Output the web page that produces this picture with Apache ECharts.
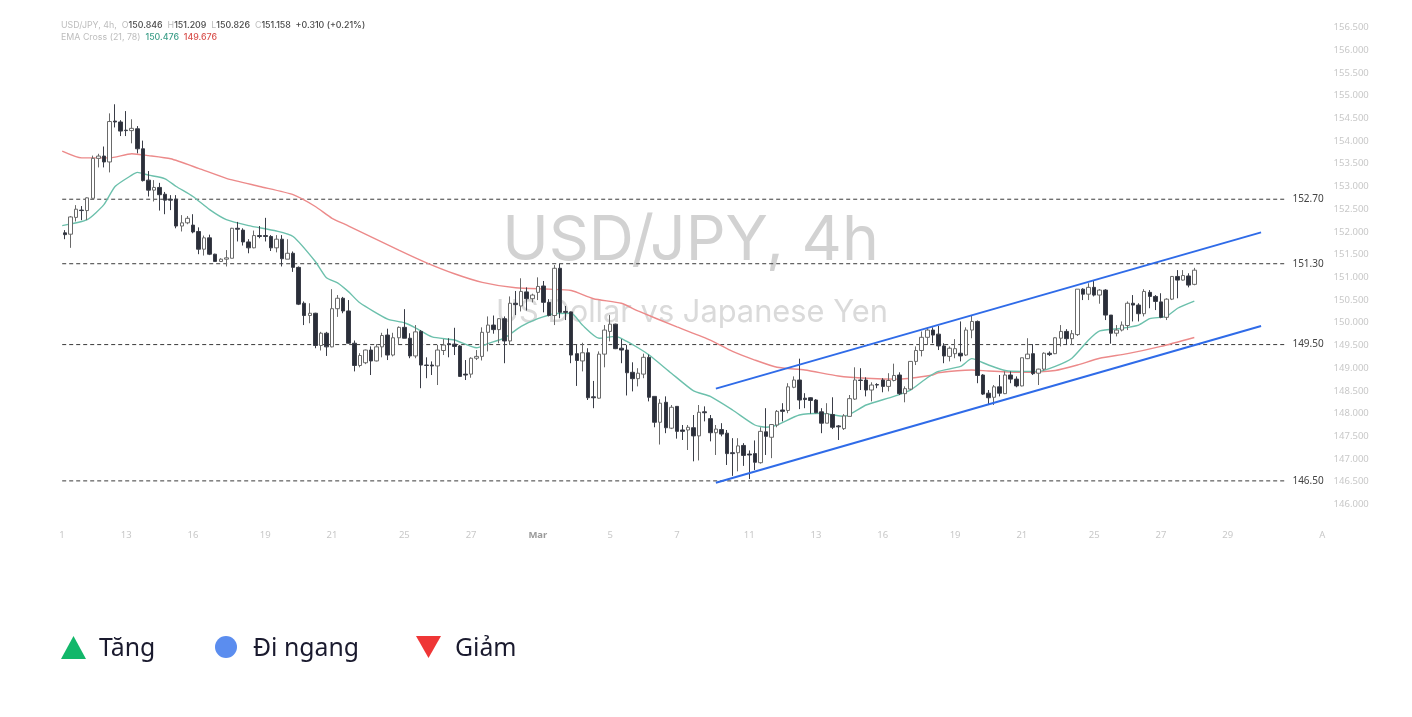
<!DOCTYPE html>
<html>
<head>
<meta charset="utf-8">
<title>USD/JPY 4h</title>
<script src="https://cdn.jsdelivr.net/npm/echarts@6/dist/echarts.min.js"></script>
<style>
html,body{margin:0;padding:0;background:#fff}
#chart{width:1412px;height:717px}
</style>
</head>
<body>
<div id="chart"></div>
<script>
// x axis labels, keyed by candle slot
var tickLabels = {0:'1',11:'13',23:'16',36:'19',48:'21',61:'25',73:'27',85:'Mar',98:'5',110:'7',123:'11',135:'13',147:'16',160:'19',172:'21',185:'25',197:'27',209:'29',226:'A'};
var slotCount = 228;

// open, close, low, high
var ohlc = [
[151.98,151.94,151.84,152.04],[151.95,152.33,151.65,152.35],[152.32,152.50,152.23,152.59],[152.48,152.47,152.26,152.57],
[152.47,152.75,152.26,152.76],[152.74,153.62,152.74,153.68],[153.62,153.67,153.42,153.72],[153.67,153.54,153.42,153.88],
[153.54,154.43,153.31,154.61],[154.44,154.42,154.30,154.81],[154.42,154.22,154.11,154.46],[154.24,154.23,154.11,154.66],
[154.23,154.28,153.95,154.48],[154.27,153.83,153.73,154.33],[153.83,153.13,153.11,154.01],[153.14,152.92,152.78,153.34],
[152.92,152.98,152.67,153.14],[152.98,152.82,152.47,153.08],[152.83,152.70,152.39,152.88],[152.72,152.70,152.48,152.81],
[152.72,152.13,152.08,152.81],[152.13,152.20,152.01,152.37],[152.20,152.30,152.17,152.35],[152.15,152.00,151.97,152.39],
[152.01,151.62,151.51,152.10],[151.62,151.87,151.48,151.92],[151.87,151.51,151.49,151.94],[151.51,151.35,151.34,151.52],
[151.35,151.40,151.34,151.42],[151.40,151.43,151.24,151.60],[151.42,152.08,151.42,152.09],[152.08,152.06,151.79,152.22],
[152.04,151.78,151.70,152.08],[151.78,151.65,151.53,151.84],[151.65,151.92,151.64,152.03],[151.92,151.90,151.86,152.13],
[151.92,151.90,151.79,152.31],[151.90,151.65,151.58,151.93],[151.65,151.84,151.55,151.93],[151.84,151.41,151.24,151.93],
[151.40,151.53,151.40,151.84],[151.53,151.22,151.12,151.57],[151.22,150.41,150.39,151.24],[150.43,150.16,149.95,150.47],
[150.16,150.21,149.99,150.43],[150.21,149.50,149.44,150.22],[149.50,149.77,149.39,149.80],[149.77,149.47,149.27,149.80],
[149.47,150.31,149.46,150.74],[150.31,150.54,150.13,150.61],[150.54,150.26,150.21,150.57],[150.26,149.55,149.54,150.50],
[149.55,149.06,148.93,149.61],[149.06,149.28,149.02,149.33],[149.12,149.40,149.09,149.41],[149.40,149.16,148.85,149.48],
[149.16,149.47,149.15,149.53],[149.47,149.72,149.24,149.78],[149.73,149.29,149.18,149.87],[149.29,149.67,149.26,149.78],
[149.67,149.90,149.51,149.92],[149.90,149.66,149.66,150.30],[149.66,149.27,149.22,149.77],[149.27,149.80,149.22,149.95],
[149.81,149.07,148.56,149.84],[149.07,149.06,148.78,149.24],[149.07,149.05,148.85,149.15],[149.05,149.40,148.63,149.51],
[149.39,149.51,149.29,149.64],[149.54,149.52,149.24,149.66],[149.53,149.48,149.29,149.89],[149.49,148.82,148.81,149.51],
[148.87,148.85,148.74,149.18],[148.87,149.22,148.79,149.24],[149.22,149.26,149.18,149.40],[149.26,149.79,149.17,149.90],
[149.79,149.95,149.37,150.14],[149.95,149.85,149.76,150.16],[149.85,150.09,149.55,150.10],[150.09,149.60,149.11,150.14],
[149.60,150.43,149.51,150.58],[150.43,150.40,150.17,150.70],[150.37,150.69,150.25,150.98],[150.68,150.53,150.27,150.78],
[150.53,150.61,150.45,150.64],[150.67,150.80,150.50,151.00],[150.81,150.45,150.23,150.92],[150.45,150.16,150.14,150.52],
[150.16,151.20,149.95,151.27],[151.20,150.23,150.10,151.30],[150.25,150.23,150.06,150.37],[150.24,149.29,149.11,150.25],
[149.32,149.17,148.61,149.51],[149.16,149.34,148.93,149.56],[149.34,148.35,148.30,149.44],[148.37,148.35,148.12,148.72],
[148.34,149.31,148.33,149.37],[149.31,149.84,149.02,149.95],[149.81,149.97,149.59,150.17],[149.97,149.43,149.42,149.98],
[149.44,149.40,149.11,149.64],[149.40,148.90,148.40,149.51],[148.91,148.77,148.49,149.13],[148.77,148.89,148.60,149.00],
[148.87,149.24,148.78,149.32],[149.24,148.36,148.27,149.30],[148.38,147.81,147.70,148.38],[147.81,148.23,147.32,148.32],
[148.25,147.69,147.57,148.38],[147.68,148.14,147.66,148.19],[148.16,147.61,147.45,148.16],[147.64,147.61,147.42,147.75],
[147.64,147.70,147.20,147.75],[147.69,147.51,146.95,147.97],[147.51,148.03,146.97,148.19],[148.04,148.02,147.83,148.16],
[147.89,147.58,147.39,147.97],[147.58,147.66,147.09,147.75],[147.65,147.55,147.50,147.79],[147.57,147.12,146.87,147.64],
[147.14,147.12,146.63,147.46],[147.14,147.29,146.73,147.46],[147.30,147.08,146.85,147.35],[147.11,147.09,146.56,147.19],
[147.12,146.93,146.76,147.41],[146.92,147.61,146.90,147.70],[147.60,147.50,147.09,148.12],[147.48,147.76,147.02,147.77],
[147.75,148.05,147.70,148.08],[148.08,148.05,147.83,148.23],[148.07,148.59,148.01,148.67],[148.58,148.74,148.56,148.82],
[148.74,148.30,148.10,149.21],[148.34,148.31,148.12,148.45],[148.35,148.29,148.00,148.36],[148.30,148.02,148.01,148.32],
[148.04,147.79,147.57,148.12],[147.79,148.00,147.79,148.23],[147.98,147.70,147.66,148.36],[147.73,147.71,147.42,147.75],
[147.67,147.95,147.64,147.99],[147.94,148.33,147.94,148.41],[148.32,148.74,148.30,149.02],[148.74,148.73,148.52,149.00],
[148.74,148.52,148.38,148.80],[148.52,148.63,148.27,148.69],[148.64,148.63,148.56,148.67],[148.74,148.60,148.47,148.78],
[148.60,148.73,148.49,148.89],[148.73,148.84,148.71,149.10],[148.85,148.44,148.41,148.91],[148.44,148.55,148.25,148.60],
[148.54,149.15,148.52,149.15],[149.15,149.39,149.07,149.48],[149.39,149.68,149.26,149.81],[149.68,149.84,149.51,149.90],
[149.84,149.73,149.55,149.90],[149.75,149.49,149.40,149.93],[149.49,149.27,149.11,149.55],[149.26,149.44,149.15,149.48],
[149.32,149.43,149.22,149.64],[149.33,149.27,149.15,150.03],[149.29,149.84,149.27,149.90],[149.84,150.03,149.66,150.15],
[150.03,148.84,148.67,150.05],[148.85,148.43,148.41,148.87],[148.45,148.35,148.19,148.52],[148.36,148.59,148.19,148.63],
[148.59,148.45,148.38,148.85],[148.44,148.85,148.43,148.93],[148.85,148.76,148.67,148.93],[148.76,148.61,148.58,148.82],
[148.61,149.23,148.60,149.23],[149.21,149.31,149.20,149.66],[149.32,148.88,148.85,149.53],[148.89,148.98,148.63,148.99],
[148.98,149.33,148.95,149.35],[149.33,149.30,149.27,149.37],[149.32,149.67,149.31,149.68],[149.66,149.81,149.48,149.95],
[149.81,149.65,149.51,149.86],[149.65,149.76,149.51,149.84],[149.74,150.74,149.71,150.74],[150.74,150.63,150.50,150.76],
[150.63,150.78,150.50,150.87],[150.78,150.61,150.58,150.94],[150.61,150.72,150.42,150.74],[150.72,150.17,150.06,150.74],
[150.17,149.77,149.54,150.17],[149.77,149.84,149.70,149.95],[149.84,149.95,149.81,150.03],[149.94,150.43,149.84,150.47],
[150.43,150.39,150.03,150.61],[150.39,150.20,150.03,150.43],[150.20,150.69,150.14,150.74],[150.67,150.58,150.32,150.72],
[150.58,150.47,150.28,150.61],[150.46,150.12,150.10,150.65],[150.12,150.52,150.06,150.54],[150.52,151.02,150.50,151.03],
[151.02,150.94,150.54,151.16],[150.94,151.04,150.93,151.16],[151.03,150.83,150.78,151.09],[150.846,151.158,150.826,151.209]
];

// [position in candle widths from the left edge, price]
var emaFast = [[0,152.14],[4.5,152.27],[7.5,152.60],[9.5,153.00],[12.5,153.25],[13.5,153.31],[15.5,153.25],[18.5,153.17],[20.5,153.00],[23.5,152.78],[26.5,152.49],[29.5,152.27],[33.5,152.14],[38.5,152.02],[41.5,151.90],[45.5,151.35],[47.5,150.99],[49.5,150.88],[51.5,150.68],[53.5,150.44],[58.5,150.08],[61.5,150.00],[63.5,149.89],[66.5,149.69],[70.5,149.62],[74.5,149.45],[76.5,149.54],[79.5,149.67],[82.5,149.92],[85.5,150.09],[88.5,150.20],[91.5,150.21],[93.5,149.95],[96.5,149.66],[99.5,149.70],[101.5,149.59],[103.5,149.45],[105.5,149.29],[109.5,148.89],[113.5,148.50],[116.5,148.38],[120.5,148.08],[124.5,147.75],[126.5,147.70],[128.5,147.75],[132.5,147.97],[136.5,148.01],[140.5,147.94],[144.5,148.19],[149.5,148.38],[152.5,148.52],[155.5,148.79],[157.5,148.93],[161.5,149.04],[163.5,149.21],[166.5,149.07],[169.5,148.95],[172.5,148.93],[175.5,148.93],[178.5,149.04],[181.5,149.22],[184.5,149.62],[186.5,149.82],[190.5,149.88],[193.5,149.95],[195.5,150.09],[198.5,150.14],[200.5,150.32],[203.5,150.476]];
var emaSlow = [[0,153.78],[3.5,153.63],[8.5,153.63],[12.5,153.72],[15.5,153.68],[19.5,153.61],[24.5,153.40],[29.5,153.18],[35.5,153.00],[41.5,152.82],[45.5,152.56],[48.5,152.30],[51.5,152.13],[60.5,151.60],[65.5,151.32],[70.5,151.08],[75.5,150.89],[81.5,150.77],[87.5,150.74],[91.5,150.71],[95.5,150.53],[100.5,150.43],[103.5,150.26],[110.5,149.91],[116.5,149.62],[120.5,149.37],[124.5,149.18],[128.5,149.02],[133.5,148.96],[139.5,148.83],[144.5,148.78],[150.5,148.76],[156.5,148.85],[157.5,148.90],[163.5,148.96],[166.5,148.94],[172.5,148.91],[178.5,148.95],[182.5,149.07],[186.5,149.22],[191.5,149.32],[197.5,149.48],[203.5,149.676]];

// trend channel ends and horizontal levels
var channelTop = [[117.5,148.55],[215.5,151.99]];
var channelBottom = [[117.5,146.48],[215.5,149.93]];
var levels = [152.72,151.30,149.52,146.52];
var levelText = ['152.70','151.30','149.50','146.50'];
var levelEnd = 219.7;

var categories = [];
for (var i = 0; i < slotCount; i++) categories.push(tickLabels[i] || '');

var series = [];
levels.forEach(function (p, n) {
    series.push({
        type: 'line',
        xAxisIndex: 1,
        data: [[0, p], [levelEnd, p]],
        symbol: 'none',
        silent: true,
        z: 1,
        lineStyle: {color: '#3a3a3a', width: 1, type: [4, 3]},
        endLabel: {
            show: true,
            distance: 8,
            formatter: levelText[n],
            color: '#444',
            fontFamily: 'Noto Sans',
            fontSize: 10
        }
    });
});
series.push({
    name: 'EMA 78', type: 'line', xAxisIndex: 1, data: emaSlow, symbol: 'none', smooth: 0.2, z: 2,
    lineStyle: {color: '#ec8a8a', width: 1.4}
});
series.push({
    name: 'EMA 21', type: 'line', xAxisIndex: 1, data: emaFast, symbol: 'none', smooth: 0.2, z: 2,
    lineStyle: {color: '#6cc0ac', width: 1.4}
});
series.push({
    name: 'USD/JPY', type: 'candlestick', data: ohlc, barWidth: 4, z: 3,
    itemStyle: {
        color: '#fff',
        color0: '#2a2e39',
        borderColor: '#6a6a6a',
        borderColor0: '#3a3d47',
        borderWidth: 1
    }
});
[channelTop, channelBottom].forEach(function (d) {
    series.push({
        type: 'line', xAxisIndex: 1, data: d, symbol: 'none', silent: true, z: 4,
        lineStyle: {color: '#2f6be8', width: 2}
    });
});

var chart = echarts.init(document.getElementById('chart'));
chart.setOption({
    animation: false,
    backgroundColor: '#fff',
    grid: {left: 62.2, top: 27.5, width: 1268.4, height: 477},
    xAxis: [{
        type: 'category',
        data: categories,
        axisLine: {show: false},
        axisTick: {show: false},
        splitLine: {show: false},
        axisLabel: {
            interval: function (idx, val) { return val !== ''; },
            hideOverlap: false,
            margin: 26,
            color: '#c8c8c8',
            fontFamily: 'Noto Sans',
            fontSize: 9.5,
            formatter: function (v) {
                if (v === 'Mar') return '{b|Mar}';
                if (v === '1') return '{s|1}';
                return v;
            },
            rich: {
                b: {color: '#9a9a9a', fontWeight: 'bold', fontFamily: 'Noto Sans', fontSize: 9.5},
                s: {color: '#c8c8c8', fontFamily: 'Noto Sans', fontSize: 9.5, padding: [0, 6, 0, 0]}
            }
        }
    }, {
        // continuous twin of the candle slots, for the overlay lines
        type: 'value',
        min: 0,
        max: slotCount,
        show: false
    }],
    yAxis: {
        type: 'value',
        position: 'right',
        min: 146,
        max: 156.5,
        interval: 0.5,
        axisLine: {show: false},
        axisTick: {show: false},
        splitLine: {show: false},
        axisLabel: {
            margin: 3,
            color: '#c8c8c8',
            fontFamily: 'Noto Sans',
            fontSize: 9.5,
            padding: [2, 0, 0, 0],
            formatter: function (v) { return v.toFixed(3); }
        }
    },
    graphic: [
        {type: 'text', z: 0, x: 690.5, y: 241, style: {text: 'USD/JPY, 4h', fill: '#d2d2d2', fontFamily: 'Inter', fontSize: 62.5, align: 'center', verticalAlign: 'middle'}},
        {type: 'text', z: 0, x: 692, y: 313, style: {text: 'US Dollar vs Japanese Yen', fill: '#dadada', fontFamily: 'Inter', fontSize: 30.8, align: 'center', verticalAlign: 'middle'}},
        {type: 'text', x: 61, y: 25, style: {
            text: '{g|USD/JPY, 4h,  O}{v|150.846}{g|  H}{v|151.209}{g|  L}{v|150.826}{g|  C}{v|151.158}{v|  +0.310 (+0.21%)}',
            verticalAlign: 'middle',
            rich: {
                g: {fill: '#bdbdbd', fontFamily: 'Inter', fontSize: 8.85},
                v: {fill: '#4a4a4a', fontFamily: 'Inter', fontSize: 8.85, fontWeight: 500}
            }
        }},
        {type: 'text', x: 61, y: 37.5, style: {
            text: '{g|EMA Cross (21, 78)  }{t|150.476}{r|  149.676}',
            verticalAlign: 'middle',
            rich: {
                g: {fill: '#bdbdbd', fontFamily: 'Inter', fontSize: 8.85},
                t: {fill: '#3f9f8a', fontFamily: 'Inter', fontSize: 8.85, fontWeight: 500},
                r: {fill: '#d9534f', fontFamily: 'Inter', fontSize: 8.85, fontWeight: 500}
            }
        }},
        // legend row under the chart
        {type: 'polygon', shape: {points: [[73.5, 636], [86, 659], [61, 659]]}, style: {fill: '#12b76a'}},
        {type: 'text', x: 99, y: 648.5, style: {text: 'Tăng', fill: '#1a1a2e', fontFamily: 'Noto Sans', fontSize: 24.8, verticalAlign: 'middle'}},
        {type: 'circle', shape: {cx: 226, cy: 647, r: 11}, style: {fill: '#5b8def'}},
        {type: 'text', x: 253, y: 648.5, style: {text: 'Đi ngang', fill: '#1a1a2e', fontFamily: 'Noto Sans', fontSize: 24.8, verticalAlign: 'middle'}},
        {type: 'polygon', shape: {points: [[416, 636], [441, 636], [428.5, 658]]}, style: {fill: '#ef3636'}},
        {type: 'text', x: 455, y: 648.5, style: {text: 'Giảm', fill: '#1a1a2e', fontFamily: 'Noto Sans', fontSize: 24.8, verticalAlign: 'middle'}}
    ],
    series: series
});

window.addEventListener('resize', function () {
    chart.resize();
});
</script>
</body>
</html>
